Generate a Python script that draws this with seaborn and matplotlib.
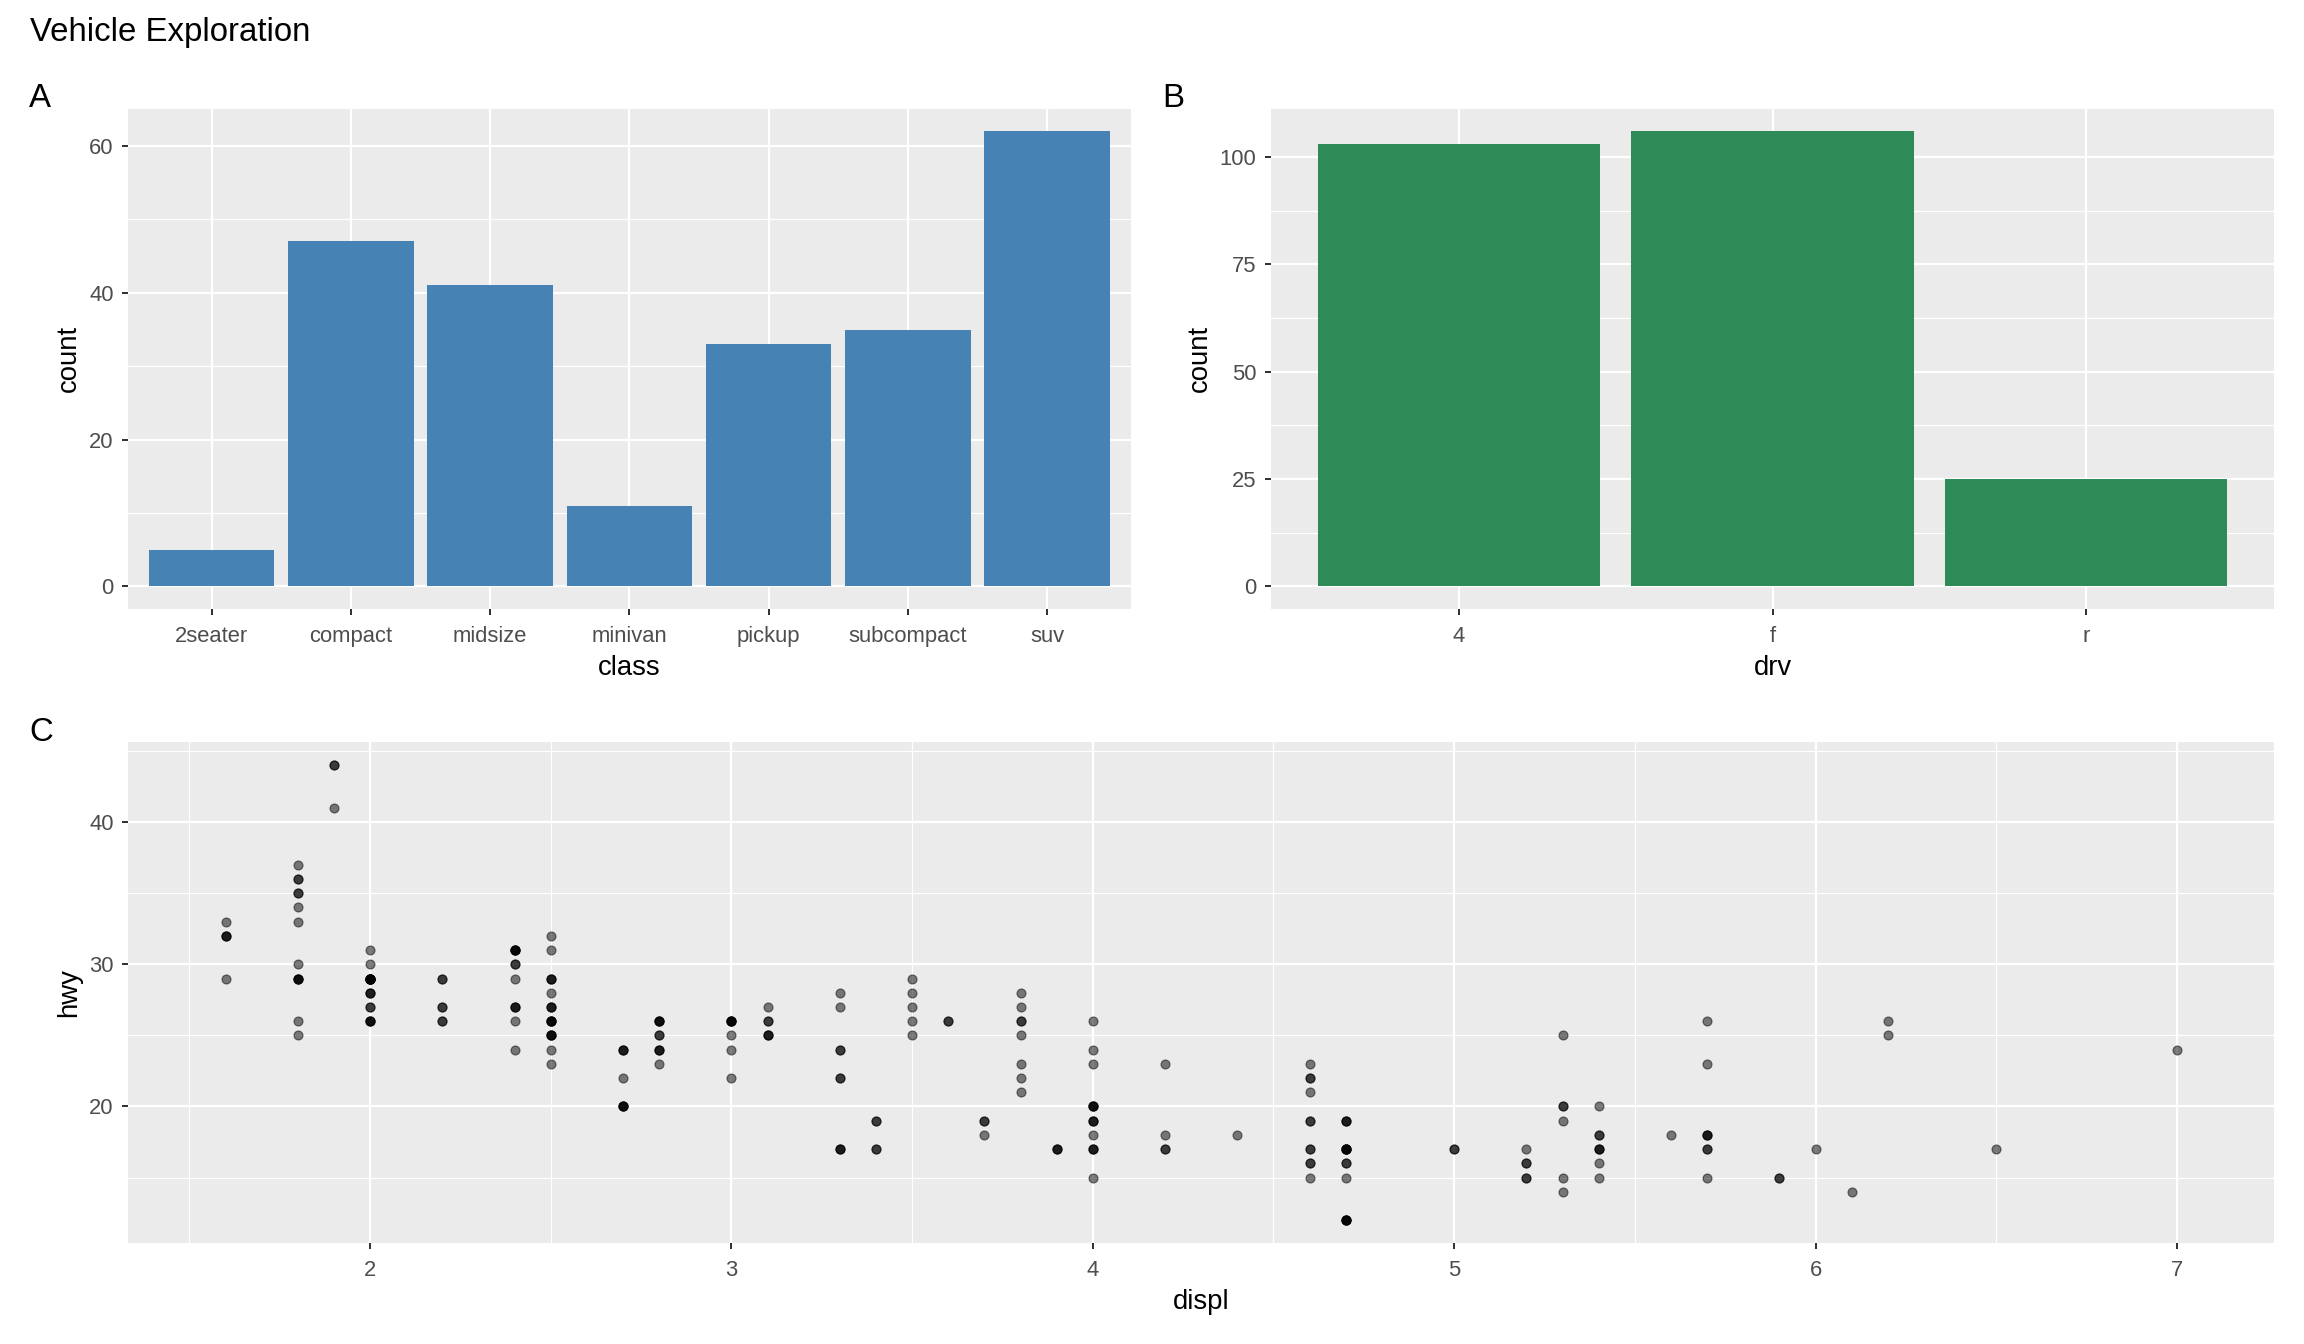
import matplotlib
matplotlib.use('Agg')
import matplotlib.pyplot as plt
from matplotlib.ticker import MultipleLocator
import seaborn as sns

# contagens por classe (painel A)
classes = ['2seater', 'compact', 'midsize', 'minivan', 'pickup', 'subcompact', 'suv']
class_counts = [5, 47, 41, 11, 33, 35, 62]

# contagens por tracao (painel B)
drv_levels = ['4', 'f', 'r']
drv_counts = [103, 106, 25]

# cilindrada x consumo em estrada (painel C)
displ = [
    1.8, 1.8, 2.0, 2.0, 2.8, 2.8, 3.1,
    1.8, 1.8, 2.0, 2.0, 2.8, 2.8, 3.1, 3.1,
    2.8, 3.1, 4.2,
    5.3, 5.3, 5.3, 5.7, 6.0,
    5.7, 5.7, 6.2, 6.2, 7.0,
    5.3, 5.3, 5.7, 6.5,
    2.4, 2.4, 3.1, 3.5, 3.6,
    2.4, 3.0, 3.3, 3.3, 3.3, 3.3, 3.3, 3.8, 3.8, 3.8, 4.0,
    3.7, 3.7, 3.9, 3.9, 4.7, 4.7, 4.7, 5.2, 5.2,
    3.9, 4.7, 4.7, 4.7, 5.2, 5.7, 5.9,
    4.7, 4.7, 4.7, 4.7, 4.7, 4.7, 5.2, 5.2, 5.7, 5.9,
    4.6, 5.4, 5.4,
    4.0, 4.0, 4.0, 4.0, 4.6, 5.0,
    4.2, 4.2, 4.6, 4.6, 4.6, 5.4, 5.4,
    3.8, 3.8, 4.0, 4.0, 4.6, 4.6, 4.6, 4.6, 5.4,
    1.6, 1.6, 1.6, 1.6, 1.6, 1.8, 1.8, 1.8, 2.0,
    2.4, 2.4, 2.4, 2.4, 2.5, 2.5, 3.3,
    2.0, 2.0, 2.0, 2.0, 2.7, 2.7, 2.7,
    3.0, 3.7, 4.0, 4.7, 4.7, 4.7, 5.7, 6.1,
    4.0, 4.2, 4.4, 4.6,
    5.4, 5.4, 5.4,
    4.0, 4.0, 4.6, 5.0,
    2.4, 2.4, 2.5, 2.5, 3.5, 3.5,
    3.0, 3.0, 3.5,
    3.3, 3.3, 4.0, 5.6,
    3.1, 3.8, 3.8, 3.8, 5.3,
    2.5, 2.5, 2.5, 2.5, 2.5, 2.5,
    2.2, 2.2, 2.5, 2.5, 2.5, 2.5, 2.5, 2.5,
    2.7, 2.7, 3.4, 3.4, 4.0, 4.7,
    2.2, 2.2, 2.4, 2.4, 3.0, 3.0, 3.5,
    2.2, 2.2, 2.4, 2.4, 3.0, 3.0, 3.3,
    1.8, 1.8, 1.8, 1.8, 1.8,
    4.7, 5.7,
    2.7, 2.7, 2.7, 3.4, 3.4, 4.0, 4.0,
    2.0, 2.0, 2.0, 2.0, 2.8,
    1.9, 2.0, 2.0, 2.0, 2.0, 2.5, 2.5, 2.8, 2.8,
    1.9, 2.0, 2.0, 1.9, 2.5, 2.5,
    1.8, 1.8, 2.0, 2.0, 2.8, 2.8, 3.6,
]
hwy = [
    29, 29, 31, 30, 26, 26, 27,
    26, 25, 28, 27, 25, 25, 25, 25,
    24, 25, 23,
    20, 15, 20, 17, 17,
    26, 23, 26, 25, 24,
    19, 14, 15, 17,
    27, 30, 26, 29, 26,
    24, 24, 22, 22, 24, 24, 17, 22, 21, 23, 23,
    19, 18, 17, 17, 19, 19, 12, 17, 15,
    17, 17, 12, 17, 16, 18, 15,
    16, 12, 17, 17, 16, 12, 15, 16, 17, 15,
    17, 17, 18,
    17, 19, 17, 19, 19, 17,
    17, 17, 16, 16, 17, 15, 17,
    26, 25, 26, 24, 21, 22, 23, 22, 20,
    33, 32, 32, 29, 32, 34, 36, 36, 29,
    26, 27, 30, 31, 26, 26, 28,
    26, 29, 28, 27, 24, 24, 24,
    22, 19, 20, 17, 12, 19, 18, 14,
    15, 18, 18, 15,
    17, 16, 18,
    17, 19, 19, 17,
    29, 27, 31, 32, 27, 26,
    26, 25, 25,
    17, 17, 20, 18,
    26, 26, 27, 28, 25,
    25, 24, 27, 25, 26, 23,
    26, 26, 26, 26, 25, 27, 25, 27,
    20, 20, 19, 17, 20, 17,
    29, 27, 31, 31, 26, 26, 28,
    27, 29, 31, 31, 26, 26, 27,
    30, 33, 35, 37, 35,
    15, 18,
    20, 20, 22, 17, 19, 18, 20,
    29, 26, 29, 29, 24,
    44, 29, 26, 29, 29, 29, 29, 23, 24,
    44, 29, 26, 41, 28, 29,
    29, 29, 28, 29, 26, 26, 26,
]

plt.rcParams['font.family'] = ['Liberation Sans', 'DejaVu Sans']

TICK = 11
TITLE = 13.75


def estilo_gg(ax):
    # visual parecido com theme_gray do ggplot
    ax.set_facecolor('#EBEBEB')
    for s in ax.spines.values():
        s.set_visible(False)
    ax.set_axisbelow(True)
    ax.tick_params(which='major', length=3.2, width=1.0, color='#333333',
                   labelcolor='#4D4D4D', labelsize=TICK, pad=4)
    ax.tick_params(axis='x', which='major', pad=5.5)
    ax.tick_params(which='minor', length=0)
    ax.grid(which='major', color='white', linewidth=1.1)
    ax.grid(which='minor', color='white', linewidth=0.55)


fig = plt.figure(figsize=(16, 1344 / 144), dpi=144)
ax_a = fig.add_axes([0.05556, 0.5469, 0.4352, 0.3722])
ax_b = fig.add_axes([0.5516, 0.5469, 0.4355, 0.3722])
ax_c = fig.add_axes([0.05556, 0.07515, 0.9316, 0.3724])

# Painel A
sns.barplot(x=classes, y=class_counts, color='#4682B4', saturation=1, width=0.9, ax=ax_a)
ax_a.set_xlim(-0.6, len(classes) - 0.4)
ax_a.set_ylim(-3.1, 65.1)
ax_a.yaxis.set_major_locator(MultipleLocator(20))
ax_a.yaxis.set_minor_locator(MultipleLocator(10))
estilo_gg(ax_a)
ax_a.set_xlabel('class', fontsize=TITLE, labelpad=4)
ax_a.set_ylabel('count', fontsize=TITLE, labelpad=3.5)

# Painel B
sns.barplot(x=drv_levels, y=drv_counts, color='#2E8B57', saturation=1, width=0.9, ax=ax_b)
ax_b.set_xlim(-0.6, len(drv_levels) - 0.4)
ax_b.set_ylim(-5.3, 111.3)
ax_b.yaxis.set_major_locator(MultipleLocator(25))
ax_b.yaxis.set_minor_locator(MultipleLocator(12.5))
estilo_gg(ax_b)
ax_b.set_xlabel('drv', fontsize=TITLE, labelpad=4)
ax_b.set_ylabel('count', fontsize=TITLE, labelpad=3.5)

# Painel C
sns.scatterplot(x=displ, y=hwy, color='black', alpha=0.5, s=20,
                edgecolor='black', linewidth=0.6, ax=ax_c)
ax_c.set_xlim(1.33, 7.27)
ax_c.set_ylim(10.4, 45.6)
ax_c.xaxis.set_major_locator(MultipleLocator(1))
ax_c.xaxis.set_minor_locator(MultipleLocator(0.5))
ax_c.yaxis.set_major_locator(MultipleLocator(10))
ax_c.yaxis.set_minor_locator(MultipleLocator(5))
estilo_gg(ax_c)
ax_c.set_xlabel('displ', fontsize=TITLE, labelpad=4)
ax_c.set_ylabel('hwy', fontsize=TITLE, labelpad=3.5)

# titulo e etiquetas dos paineis
fig.text(0.013, 0.9697, 'Vehicle Exploration', fontsize=16.5, va='baseline', ha='left')
fig.text(0.0126, 0.9206, 'A', fontsize=16.5, va='baseline', ha='left')
fig.text(0.5043, 0.9206, 'B', fontsize=16.5, va='baseline', ha='left')
fig.text(0.0126, 0.4490, 'C', fontsize=16.5, va='baseline', ha='left')

fig.savefig('out.png', dpi=144)
